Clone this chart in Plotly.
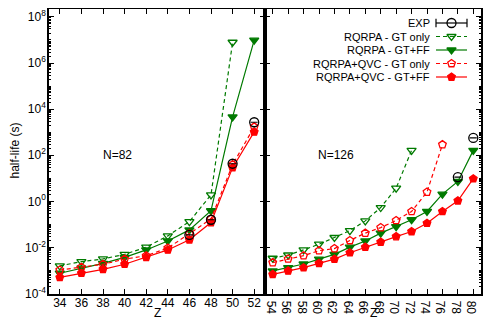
import numpy as np
import plotly.graph_objects as go

# page body has an 8px margin; figure is sized to fit the 491x327 window
OFF = 8
FW, FH = 491 - 2 * OFF, 327 - 2 * OFF

# ---------------- data (log10 of half-life in s) ----------------
Z82 = [34, 36, 38, 40, 42, 44, 46, 48, 50, 52]
rqrpa_gt_82 = [-2.80, -2.62, -2.50, -2.30, -1.99, -1.50, -0.88, 0.28, 6.90]
rqrpa_gtff_82 = [-3.12, -2.90, -2.69, -2.43, -2.11, -1.72, -1.24, -0.41, 3.66, 6.99]
qvc_gt_82 = [-2.98, -2.86, -2.73, -2.51, -2.36, -2.03, -1.41, -0.77, 1.59, 3.23]
qvc_gtff_82 = [-3.30, -3.12, -2.95, -2.73, -2.43, -2.11, -1.67, -0.92, 1.46, 3.01]
exp_Z82 = [46, 48, 50, 52]
exp_82 = [-1.46, -0.80, 1.63, 3.43]

Z126 = [54, 56, 58, 60, 62, 64, 66, 68, 70, 72, 74, 76, 78, 80]
rqrpa_gt_126 = [-2.47, -2.33, -2.11, -1.86, -1.57, -1.27, -0.85, -0.27, 0.57, 2.21]
qvc_gt_126 = [-2.66, -2.50, -2.36, -2.14, -2.05, -1.70, -1.38, -1.14, -0.83, -0.44, 0.40, 2.46]
rqrpa_gtff_126 = [-3.02, -2.88, -2.72, -2.51, -2.30, -1.99, -1.72, -1.38, -1.10, -0.80, -0.44, 0.31, 0.86, 2.21]
qvc_gtff_126 = [-3.17, -3.02, -2.88, -2.69, -2.51, -2.23, -1.99, -1.77, -1.53, -1.31, -0.95, -0.44, 0.02, 0.98]
exp_Z126 = [78, 80]
exp_126 = [1.05, 2.75]

series_names = ["EXP", "RQRPA - GT only", "RQRPA - GT+FF",
                "RQRPA+QVC - GT only", "RQRPA+QVC - GT+FF"]
panel_labels = ["N=82", "N=126"]
xticks82 = list(range(34, 53, 2))
xticks126 = list(range(54, 81, 2))
ytick_exps = [-4, -2, 0, 2, 4, 6, 8]

GREEN = "#007a00"
RED = "#ff0000"
FONT = "Liberation Sans, Arial, sans-serif"

def p(v):
    return [10 ** x for x in v]

def px(x):
    return (x - OFF) / FW

def py(y):
    return 1 - (y - OFF) / FH

styles = [
    dict(color="black", dash="solid", symbol="circle-open", width=1.2),
    dict(color=GREEN, dash="4px,3px", symbol="triangle-down-open", width=1.2),
    dict(color=GREEN, dash="solid", symbol="triangle-down", width=1.2),
    dict(color=RED, dash="4px,3px", symbol="pentagon-open", width=1.2),
    dict(color=RED, dash="solid", symbol="pentagon", width=1.2),
]

fig = go.Figure()

def add_series(xs, ys, st, xa, ya, size=8, mode="lines+markers"):
    fig.add_trace(go.Scatter(
        x=xs, y=p(ys), mode=mode, xaxis=xa, yaxis=ya, showlegend=False,
        line=dict(color=st["color"], dash=st["dash"], width=st["width"]),
        marker=dict(symbol=st["symbol"], size=size, color=st["color"],
                    line=dict(color=st["color"], width=1.3)),
        cliponaxis=False))

panels = [
    ("x", "y", Z82, [rqrpa_gt_82, rqrpa_gtff_82, qvc_gt_82, qvc_gtff_82], exp_Z82, exp_82),
    ("x2", "y2", Z126, [rqrpa_gt_126, rqrpa_gtff_126, qvc_gt_126, qvc_gtff_126], exp_Z126, exp_126),
]
for xa, ya, zs, sers, ez, ev in panels:
    for st, ys in zip(styles[1:], sers):
        add_series(zs[:len(ys)], ys, st, xa, ya)
    add_series(ez, ev, styles[0], xa, ya, size=9, mode="markers")
    fig.add_trace(go.Scatter(x=ez, y=p(ev), mode="markers", xaxis=xa, yaxis=ya,
                             showlegend=False,
                             marker=dict(symbol="line-ew", size=5, color="black",
                                         line=dict(color="black", width=1.2))))

# ---------------- layout ----------------
L, M, R = px(49), px(265), px(481)
B, T = py(293.5), py(9.3)

common_x = dict(ticks="inside", ticklen=5, tickwidth=1, tickcolor="black",
                showline=True, linecolor="black", linewidth=1.5, mirror="ticks",
                showgrid=False, zeroline=False, automargin=False, ticklabelstandoff=-3,
                tickfont=dict(family=FONT, size=12, color="black"))
common_y = dict(type="log", range=[-4, 8.33], domain=[B, T],
                tickmode="array", tickvals=[10 ** e for e in ytick_exps],
                ticktext=["10<sup>%d</sup>" % e for e in ytick_exps],
                ticks="inside", ticklen=5, tickwidth=1, tickcolor="black",
                minor=dict(dtick="D1", ticks="inside", ticklen=2.5, tickcolor="black", showgrid=False),
                showline=True, linecolor="black", linewidth=1.5, mirror="ticks",
                showgrid=False, zeroline=False, automargin=False, ticklabelstandoff=-1,
                tickfont=dict(family=FONT, size=12, color="black"))

fig.update_layout(
    width=FW, height=FH, margin=dict(l=0, r=0, t=0, b=0),
    paper_bgcolor="white", plot_bgcolor="rgba(0,0,0,0)",
    font=dict(family=FONT, size=11, color="black"),
    xaxis=dict(domain=[L, M], range=[33, 53], tickmode="array", tickvals=xticks82, anchor="y", **common_x),
    xaxis2=dict(domain=[M, R], range=[53, 81], tickmode="array", tickvals=xticks126, anchor="y2", **common_x),
    yaxis=dict(anchor="x", **common_y),
    yaxis2=dict(anchor="x2", showticklabels=False, **common_y),
    xaxis3=dict(domain=[0, 1], range=[OFF, OFF + FW], visible=False, anchor="y3",
                fixedrange=True, automargin=False),
    yaxis3=dict(domain=[0, 1], range=[OFF + FH, OFF], visible=False, anchor="x3",
                fixedrange=True, automargin=False),
    showlegend=False,
)

# axis titles (positions in reference-window pixels via overlay axes)
for xz in [157, 373]:
    fig.add_annotation(x=xz, y=312.5, xref="x3", yref="y3", text="Z", showarrow=False,
                       borderpad=0, font=dict(family=FONT, size=12))
fig.add_annotation(x=14.5, y=151, xref="x3", yref="y3", text="half-life (s)",
                   textangle=-90, showarrow=False, borderpad=0, font=dict(family=FONT, size=12))

# panel labels
fig.add_annotation(x=39.3, y=2.0, xref="x", yref="y", text=panel_labels[0], showarrow=False,
                   font=dict(family=FONT, size=12))
fig.add_annotation(x=62.2, y=2.0, xref="x2", yref="y2", text=panel_labels[1], showarrow=False,
                   font=dict(family=FONT, size=12))

# ---------------- custom gnuplot-style key ----------------
key_rows = [23, 36.5, 50, 63.5, 77]
key_text_right, key_x0, key_x1 = 432, 436, 467
for st, name, yy in zip(styles, series_names, key_rows):
    fig.add_annotation(x=key_text_right, y=yy, xref="x3", yref="y3", text=name,
                       xanchor="right", showarrow=False, font=dict(family=FONT, size=11))
    fig.add_trace(go.Scatter(x=[key_x0, key_x1], y=[yy, yy], mode="lines", xaxis="x3", yaxis="y3",
                             showlegend=False, hoverinfo="skip",
                             line=dict(color=st["color"], dash=st["dash"], width=st["width"])))
    fig.add_trace(go.Scatter(x=[(key_x0 + key_x1) / 2], y=[yy], mode="markers", xaxis="x3", yaxis="y3",
                             showlegend=False, hoverinfo="skip",
                             marker=dict(symbol=st["symbol"], size=8 if st["symbol"] != "circle-open" else 9,
                                         color=st["color"], line=dict(color=st["color"], width=1.3))))
    if name == "EXP":
        fig.add_trace(go.Scatter(x=[key_x0, key_x1], y=[yy, yy], mode="markers", xaxis="x3", yaxis="y3",
                                 showlegend=False, hoverinfo="skip",
                                 marker=dict(symbol="line-ns", size=6, color="black",
                                             line=dict(color="black", width=1.2))))

fig.write_html("out.html")
